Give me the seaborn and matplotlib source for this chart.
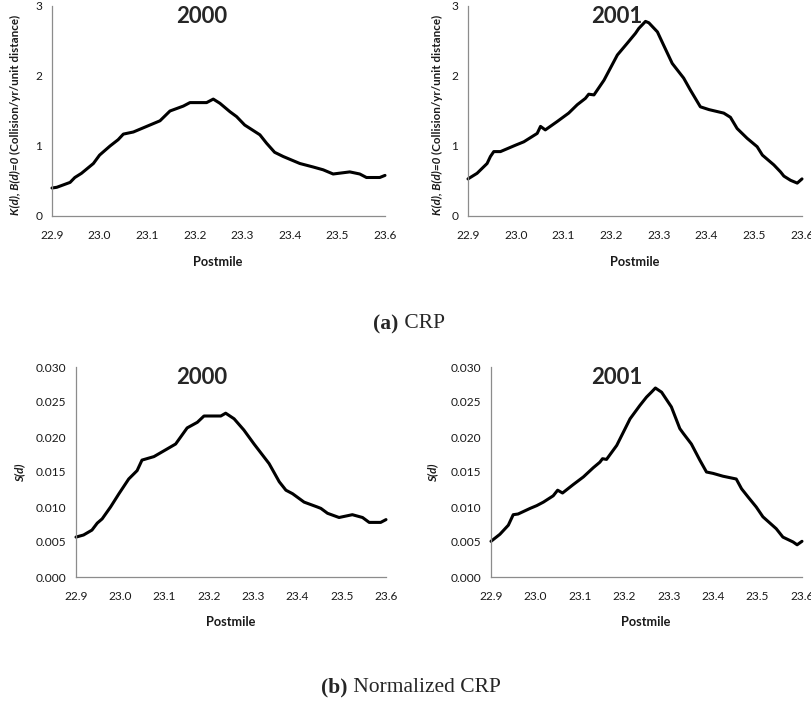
import matplotlib
matplotlib.use("Agg")
import matplotlib.pyplot as plt
import seaborn as sns
import pandas as pd

# ---------------- data ----------------
pm_crp_2000 = [22.900, 22.910, 22.938, 22.948, 22.962, 22.987, 23.000, 23.022, 23.039, 23.050,
               23.071, 23.099, 23.127, 23.148, 23.176, 23.190, 23.225, 23.239, 23.253, 23.274,
               23.288, 23.305, 23.337, 23.351, 23.368, 23.386, 23.421, 23.449, 23.470, 23.491,
               23.526, 23.547, 23.561, 23.589, 23.600]
crp_2000 = [0.40, 0.41, 0.48, 0.55, 0.61, 0.75, 0.87, 1.00, 1.09, 1.17,
            1.20, 1.28, 1.36, 1.50, 1.57, 1.62, 1.62, 1.67, 1.61, 1.49,
            1.42, 1.30, 1.16, 1.04, 0.91, 0.85, 0.75, 0.70, 0.66, 0.60,
            0.63, 0.60, 0.55, 0.55, 0.58]

pm_crp_2001 = [22.900, 22.919, 22.940, 22.947, 22.954, 22.968, 22.999, 23.017, 23.045, 23.052,
               23.062, 23.087, 23.111, 23.129, 23.146, 23.153, 23.164, 23.185, 23.213, 23.234,
               23.251, 23.258, 23.272, 23.279, 23.297, 23.310, 23.328, 23.352, 23.366, 23.387,
               23.405, 23.436, 23.450, 23.464, 23.485, 23.506, 23.517, 23.541, 23.555, 23.562,
               23.576, 23.590, 23.600]
crp_2001 = [0.53, 0.61, 0.75, 0.85, 0.92, 0.92, 1.01, 1.06, 1.18, 1.28,
            1.23, 1.35, 1.47, 1.59, 1.68, 1.74, 1.73, 1.94, 2.30, 2.47,
            2.61, 2.68, 2.78, 2.76, 2.63, 2.44, 2.18, 1.97, 1.80, 1.56,
            1.52, 1.47, 1.41, 1.25, 1.11, 0.99, 0.87, 0.73, 0.63, 0.57,
            0.51, 0.47, 0.53]

pm_norm_2000 = [22.900, 22.917, 22.936, 22.948, 22.959, 22.978, 22.997, 23.019, 23.038, 23.049,
                23.076, 23.106, 23.125, 23.151, 23.174, 23.189, 23.227, 23.238, 23.257, 23.279,
                23.302, 23.336, 23.359, 23.374, 23.389, 23.415, 23.445, 23.453, 23.468, 23.494,
                23.524, 23.547, 23.562, 23.588, 23.600]
norm_2000 = [0.0057, 0.0060, 0.0067, 0.0077, 0.0083, 0.0100, 0.0119, 0.0140, 0.0152, 0.0167,
             0.0172, 0.0183, 0.0190, 0.0213, 0.0221, 0.0230, 0.0230, 0.0234, 0.0226, 0.0210,
             0.0190, 0.0162, 0.0136, 0.0124, 0.0119, 0.0107, 0.0100, 0.0098, 0.0091, 0.0085,
             0.0089, 0.0085, 0.0078, 0.0078, 0.0082]

pm_norm_2001 = [22.900, 22.920, 22.939, 22.950, 22.961, 22.988, 23.003, 23.018, 23.040, 23.050,
                23.061, 23.085, 23.108, 23.130, 23.145, 23.151, 23.160, 23.183, 23.213, 23.235,
                23.250, 23.261, 23.270, 23.284, 23.306, 23.325, 23.333, 23.351, 23.370, 23.385,
                23.400, 23.422, 23.452, 23.464, 23.479, 23.497, 23.512, 23.542, 23.557, 23.580,
                23.589, 23.600]
norm_2001 = [0.0051, 0.0061, 0.0074, 0.0089, 0.0090, 0.0098, 0.0102, 0.0107, 0.0116, 0.0124,
             0.0120, 0.0132, 0.0143, 0.0156, 0.0164, 0.0169, 0.0168, 0.0188, 0.0226, 0.0245,
             0.0257, 0.0264, 0.0270, 0.0264, 0.0243, 0.0212, 0.0205, 0.0190, 0.0167, 0.0150,
             0.0148, 0.0144, 0.0140, 0.0126, 0.0114, 0.0100, 0.0086, 0.0069, 0.0057, 0.0050,
             0.0046, 0.0051]

x_ticks = [22.9, 23.0, 23.1, 23.2, 23.3, 23.4, 23.5, 23.6]
x_tick_labels = ["22.9", "23.0", "23.1", "23.2", "23.3", "23.4", "23.5", "23.6"]
y_ticks_crp = [0, 1, 2, 3]
y_tick_labels_crp = ["0", "1", "2", "3"]
y_ticks_norm = [0.000, 0.005, 0.010, 0.015, 0.020, 0.025, 0.030]
y_tick_labels_norm = ["0.000", "0.005", "0.010", "0.015", "0.020", "0.025", "0.030"]
years = ["2000", "2001"]
x_label = "Postmile"
y_label_crp_italic = "K(d), B(d)=0 "
y_label_crp_plain = "(Collision/yr/unit distance)"
y_label_norm = "S(d)"
caption_a = ("(a)", " CRP")
caption_b = ("(b)", " Normalized CRP")

# ---------------- style ----------------
sns.set_style("white")
plt.rcParams['font.family'] = ['Lato', 'DejaVu Sans']

W, H = 812, 702
fig = plt.figure(figsize=(W / 100, H / 100), dpi=100)
fig.patch.set_facecolor("white")

SPINE = "#8c8c8c"
TXT = "#1a1a1a"


def add_ax(x0, x1, ytop, ybot):
    return fig.add_axes([x0 / W, 1 - ybot / H, (x1 - x0) / W, (ybot - ytop) / H])


def style_ax(ax, yticks, ylabels, ylim):
    ax.set_xlim(22.9, 23.6)
    ax.set_ylim(*ylim)
    ax.set_xticks(x_ticks)
    ax.set_xticklabels(x_tick_labels)
    ax.set_yticks(yticks)
    ax.set_yticklabels(ylabels)
    for s in ["top", "right"]:
        ax.spines[s].set_visible(False)
    for s in ["left", "bottom"]:
        ax.spines[s].set_color(SPINE)
        ax.spines[s].set_linewidth(0.9)
    ax.tick_params(axis="both", direction="out", length=4, width=0.9, color=SPINE,
                   labelsize=8.6, labelcolor=TXT, pad=3)
    ax.tick_params(axis="x", pad=6)
    ax.set_xlabel("")
    ax.set_ylabel("")
    ax.grid(False)


def draw(ax, xs, ys):
    df = pd.DataFrame({"pm": xs, "v": ys})
    sns.lineplot(data=df, x="pm", y="v", ax=ax, color="black", linewidth=2.2,
                 sort=False, estimator=None, legend=False)
    ax.lines[-1].set_solid_joinstyle("round")
    ax.lines[-1].set_solid_capstyle("round")


ax1 = add_ax(52, 385, 6, 216)
ax2 = add_ax(468, 802, 6, 216)
ax3 = add_ax(76, 386, 367, 577)
ax4 = add_ax(491, 802, 367, 577)

draw(ax1, pm_crp_2000, crp_2000)
draw(ax2, pm_crp_2001, crp_2001)
draw(ax3, pm_norm_2000, norm_2000)
draw(ax4, pm_norm_2001, norm_2001)

for ax in (ax1, ax2):
    style_ax(ax, y_ticks_crp, y_tick_labels_crp, (0, 3))
for ax in (ax3, ax4):
    style_ax(ax, y_ticks_norm, y_tick_labels_norm, (0, 0.03))

for a in (ax1, ax2, ax3, ax4):
    for ln in a.lines:
        ln.set_clip_on(False)

# titles
ax1.text(0.45, 0.95, years[0], transform=ax1.transAxes, ha="center", va="center",
         fontsize=16, fontweight="bold")
ax2.text(0.446, 0.95, years[1], transform=ax2.transAxes, ha="center", va="center",
         fontsize=16, fontweight="bold")
ax3.text(0.406, 0.948, years[0], transform=ax3.transAxes, ha="center", va="center",
         fontsize=16, fontweight="bold")
ax4.text(0.405, 0.948, years[1], transform=ax4.transAxes, ha="center", va="center",
         fontsize=16, fontweight="bold")

# x labels
for cx, y in [(218, 262), (635, 262), (231, 622), (646, 622)]:
    fig.text(cx / W, 1 - y / H, x_label, ha="center", va="center", fontsize=9.2,
             fontweight="bold", color=TXT)

# y labels
renderer = fig.canvas.get_renderer()
YL_FS = 8.4


def crp_ylabel(xc, yc):
    t1 = fig.text(0, 0, y_label_crp_italic, rotation=90, rotation_mode="anchor",
                  ha="left", va="center", fontsize=YL_FS, fontweight="bold",
                  fontstyle="italic", color=TXT)
    t2 = fig.text(0, 0, y_label_crp_plain, rotation=90, rotation_mode="anchor",
                  ha="left", va="center", fontsize=YL_FS, fontweight="bold", color=TXT)
    l1 = t1.get_window_extent(renderer).height
    l2 = t2.get_window_extent(renderer).height
    start = yc + (l1 + l2) / 2  # pixel coordinate from top (bottom end of text)
    t1.set_position((xc / W, 1 - start / H))
    t2.set_position((xc / W, 1 - (start - l1) / H))


crp_ylabel(15, 115)
crp_ylabel(437, 115)
for xc in (20, 433):
    fig.text(xc / W, 1 - 473 / H, y_label_norm, rotation=90, ha="center", va="center",
             fontsize=YL_FS, fontweight="bold", fontstyle="italic", color=TXT)


# captions
def caption(parts, xc, yc):
    t1 = fig.text(0, 0, parts[0], ha="left", va="center", fontsize=15.5,
                  fontweight="bold", family="Liberation Serif")
    t2 = fig.text(0, 0, parts[1], ha="left", va="center", fontsize=15.5,
                  family="Liberation Serif")
    w1 = t1.get_window_extent(renderer).width
    w2 = t2.get_window_extent(renderer).width
    x0 = xc - (w1 + w2) / 2
    t1.set_position((x0 / W, 1 - yc / H))
    t2.set_position(((x0 + w1) / W, 1 - yc / H))


caption(caption_a, 409, 324)
caption(caption_b, 411, 687)

fig.savefig("out.png", dpi=100, facecolor="white")
